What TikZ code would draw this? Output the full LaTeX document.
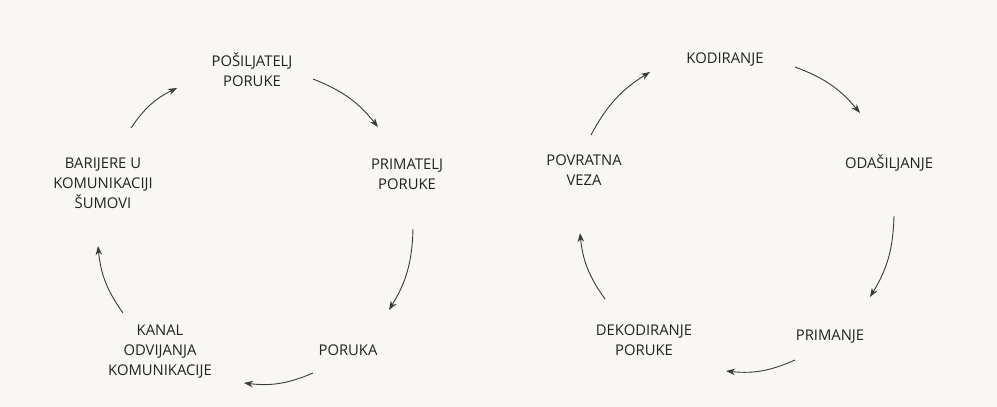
\documentclass[tikz,border=0pt]{standalone}
\usepackage{fontspec}
\setmainfont{Open Sans}
\usetikzlibrary{arrows.meta}
\definecolor{bg}{HTML}{F8F7F3}
\definecolor{ink}{HTML}{222222}
\definecolor{arr}{HTML}{3A3A3A}
\begin{document}
\begin{tikzpicture}[x=1pt,y=1pt,
  lbl/.style={align=center,text=ink,font=\fontsize{14.8}{20}\selectfont,inner sep=0pt},
  cyc/.style={draw=arr,line width=0.9pt,-{Stealth[length=9pt,width=6.5pt]},bend left=15}]
\fill[bg] (0,0) rectangle (997,-407);
\useasboundingbox (0,0) rectangle (997,-407);
% left cycle
\node[lbl] (pos) at (252,-70) {POŠILJATELJ\\PORUKE};
\node[lbl] (pri) at (407,-174) {PRIMATELJ\\PORUKE};
\node[lbl] (por) at (348,-350) {PORUKA};
\node[lbl] (kan) at (160,-352) {KANAL\\ODVIJANJA\\KOMUNIKACIJE};
\node[lbl] (bar) at (103,-183) {BARIJERE U\\KOMUNIKACIJI\\ŠUMOVI};
\coordinate (a1s) at (131,-128); \coordinate (a1e) at (177,-88);
\coordinate (a2s) at (313,-79);  \coordinate (a2e) at (378,-127);
\coordinate (a3s) at (413,-229); \coordinate (a3e) at (389,-310);
\coordinate (a4s) at (313,-373); \coordinate (a4e) at (244,-383);
\coordinate (a5s) at (123,-313); \coordinate (a5e) at (98,-246);
\draw[cyc] (a1s) to (a1e);
\draw[cyc] (a2s) to (a2e);
\draw[cyc] (a3s) to (a3e);
\draw[cyc] (a4s) to (a4e);
\draw[cyc] (a5s) to (a5e);
% right cycle
\node[lbl] (kod) at (725,-60) {KODIRANJE};
\node[lbl] (oda) at (889,-163) {ODAŠILJANJE};
\node[lbl] (prm) at (830,-337) {PRIMANJE};
\node[lbl] (dek) at (644,-340) {DEKODIRANJE\\PORUKE};
\node[lbl] (pov) at (584,-170) {POVRATNA\\VEZA};
\coordinate (b1s) at (591,-135); \coordinate (b1e) at (650,-72);
\coordinate (b2s) at (795,-67);  \coordinate (b2e) at (860,-113);
\coordinate (b3s) at (894,-216); \coordinate (b3e) at (870,-297);
\coordinate (b4s) at (795,-360); \coordinate (b4e) at (726,-371);
\coordinate (b5s) at (605,-299); \coordinate (b5e) at (580,-233);
\draw[cyc] (b1s) to (b1e);
\draw[cyc] (b2s) to (b2e);
\draw[cyc] (b3s) to (b3e);
\draw[cyc] (b4s) to (b4e);
\draw[cyc] (b5s) to (b5e);
\end{tikzpicture}
\end{document}
